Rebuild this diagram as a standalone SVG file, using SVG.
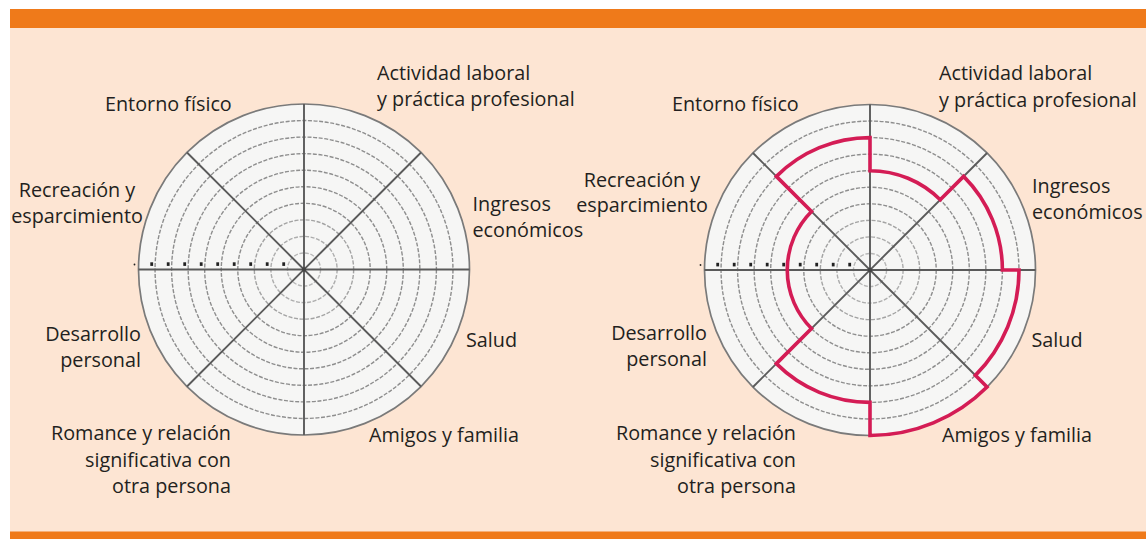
<svg xmlns="http://www.w3.org/2000/svg" xmlns:xlink="http://www.w3.org/1999/xlink" width="1146" height="539" viewBox="0 0 1146 539">
<style>
.lbl{font-family:"Open Sans","Noto Sans","Liberation Sans",sans-serif;font-size:19.8px;fill:#231f20}
.end{text-anchor:end}
.mid{text-anchor:middle}
.ring{fill:none;stroke:#8e8e8e;stroke-width:1.4;stroke-dasharray:4 1.6}
.spoke{stroke:#5a5a5a;stroke-width:1.9}
.tick{fill:#222}
.score{fill:none;stroke:#d41c55;stroke-width:3.6;stroke-linejoin:miter}
</style>
<defs>
<g id="wheel-grid">
<circle r="165.5" fill="#f6f6f5" stroke="#7a7a7a" stroke-width="1.7"/>
<circle class="ring" r="16.55" stroke-opacity="0.6"/>
<circle class="ring" r="33.1" stroke-opacity="0.7"/>
<circle class="ring" r="49.65" stroke-opacity="0.8"/>
<circle class="ring" r="66.2"/>
<circle class="ring" r="82.75"/>
<circle class="ring" r="99.3"/>
<circle class="ring" r="115.85"/>
<circle class="ring" r="132.4"/>
<circle class="ring" r="148.95"/>
<line class="spoke" x1="-165.5" y1="0" x2="165.5" y2="0"/>
<line class="spoke" x1="0" y1="-165.5" x2="0" y2="165.5"/>
<line class="spoke" x1="-117.03" y1="-117.03" x2="117.03" y2="117.03"/>
<line class="spoke" x1="-117.03" y1="117.03" x2="117.03" y2="-117.03"/>
<rect class="tick" x="-21.7" y="-7.2" width="2.8" height="3.6"/>
<rect class="tick" x="-38.2" y="-7.2" width="2.8" height="3.6"/>
<rect class="tick" x="-54.7" y="-7.2" width="2.8" height="3.6"/>
<rect class="tick" x="-71.2" y="-7.2" width="2.8" height="3.6"/>
<rect class="tick" x="-87.7" y="-7.2" width="2.8" height="3.6"/>
<rect class="tick" x="-104.2" y="-7.2" width="2.8" height="3.6"/>
<rect class="tick" x="-120.7" y="-7.2" width="2.8" height="3.6"/>
<rect class="tick" x="-137.2" y="-7.2" width="2.8" height="3.6"/>
<rect class="tick" x="-153.7" y="-7.2" width="2.8" height="3.6"/>
<circle class="tick" cx="-169.5" cy="-5" r="0.9"/>
<circle r="2.2" fill="#444"/>
</g>
</defs>

<g id="frame">
<rect x="0" y="0" width="1146" height="539" fill="#ffffff"/>
<rect x="10" y="28" width="1136" height="504" fill="#fde5d3"/>
<rect x="10" y="9" width="1136" height="19" fill="#ef7a1a"/>
<rect x="10" y="531.5" width="1136" height="7.5" fill="#ef7a1a"/>
</g>

<g id="wheel-left">
<use xlink:href="#wheel-grid" href="#wheel-grid" transform="translate(304,269.5)"/>
</g>

<g id="wheel-right">
<use xlink:href="#wheel-grid" href="#wheel-grid" transform="translate(870,270)"/>
<path id="score-line" class="score" transform="translate(870,270)" d="M 0 -132.4 A 132.4 132.4 0 0 0 -93.62 -93.62 L -58.51 -58.51 A 82.75 82.75 0 0 0 -58.51 58.51 L -93.62 93.62 A 132.4 132.4 0 0 0 0 132.4 L 0 165.5 A 165.5 165.5 0 0 0 117.03 117.03 L 105.36 105.36 A 149 149 0 0 0 149 0 L 132.4 0 A 132.4 132.4 0 0 0 93.62 -93.62 L 70.22 -70.22 A 99.3 99.3 0 0 0 0 -99.3 Z"/>
</g>

<g id="connectors"></g>

<g id="labels-left">
<g id="l-actividad"><text class="lbl" x="377" y="80">Actividad laboral</text><text class="lbl" x="377" y="106">y práctica profesional</text></g>
<g id="l-entorno"><text class="lbl" x="105" y="111">Entorno físico</text></g>
<g id="l-recreacion"><text class="lbl mid" x="77" y="197">Recreación y</text><text class="lbl mid" x="77" y="223">esparcimiento</text></g>
<g id="l-ingresos"><text class="lbl" x="472.5" y="210.5">Ingresos</text><text class="lbl" x="472.5" y="236.5">económicos</text></g>
<g id="l-salud"><text class="lbl" x="466" y="346.5">Salud</text></g>
<g id="l-desarrollo"><text class="lbl end" x="141" y="340.5">Desarrollo</text><text class="lbl end" x="141" y="366.5">personal</text></g>
<g id="l-romance"><text class="lbl end" x="231" y="440">Romance y relación</text><text class="lbl end" x="231" y="466.5">significativa con</text><text class="lbl end" x="231" y="492.5">otra persona</text></g>
<g id="l-amigos"><text class="lbl" x="369" y="441.5">Amigos y familia</text></g>
</g>

<g id="labels-right">
<g id="r-actividad"><text class="lbl" x="939" y="80">Actividad laboral</text><text class="lbl" x="939" y="106.5">y práctica profesional</text></g>
<g id="r-entorno"><text class="lbl" x="672" y="111">Entorno físico</text></g>
<g id="r-recreacion"><text class="lbl mid" x="642" y="187">Recreación y</text><text class="lbl mid" x="642" y="212">esparcimiento</text></g>
<g id="r-ingresos"><text class="lbl" x="1032" y="192.5">Ingresos</text><text class="lbl" x="1032" y="218.5">económicos</text></g>
<g id="r-salud"><text class="lbl" x="1031.5" y="346.5">Salud</text></g>
<g id="r-desarrollo"><text class="lbl end" x="707" y="340">Desarrollo</text><text class="lbl end" x="707" y="365.5">personal</text></g>
<g id="r-romance"><text class="lbl end" x="796" y="440">Romance y relación</text><text class="lbl end" x="796" y="466.5">significativa con</text><text class="lbl end" x="796" y="492.5">otra persona</text></g>
<g id="r-amigos"><text class="lbl" x="942" y="441.5">Amigos y familia</text></g>
</g>
</svg>
